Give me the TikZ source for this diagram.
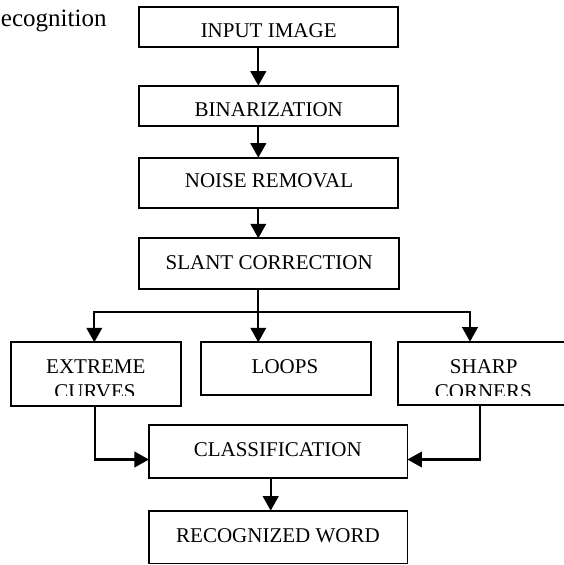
\documentclass[tikz,border=0pt]{standalone}
\usepackage{fontspec}
\setmainfont{Liberation Serif}
\usetikzlibrary{arrows.meta}
\begin{document}
\begin{tikzpicture}[x=1bp,y=-1bp,
  box/.style={draw,rectangle,line width=1.7bp,inner sep=0pt,outer sep=0pt},
  lbl/.style={inner sep=0pt,anchor=base,font=\fontsize{21bp}{25bp}\selectfont},
  flow/.style={line width=2.3bp,-{Triangle[width=15.5bp,length=14.5bp]}}]
\clip (0,0) rectangle (564,565);

% caption fragment
\node[inner sep=0pt,anchor=base east,font=\fontsize{25bp}{30bp}\selectfont] (cap) at (106.7,26.7) {ecognition};

% processing boxes
\node[box,minimum width=259bp,minimum height=40bp]   (in)    at (268.8,26.7)  {};
\node[box,minimum width=259bp,minimum height=40bp]   (bin)   at (268.8,105.7) {};
\node[box,minimum width=259bp,minimum height=50.6bp] (noise) at (268.8,183.0) {};
\node[box,minimum width=259.7bp,minimum height=51bp] (slant) at (269.15,263.8) {};
\node[box,minimum width=170bp,minimum height=63.7bp] (ext)   at (96,374.15) {};
\node[box,minimum width=170bp,minimum height=52.7bp] (loops) at (286,368.65) {};
\node[box,minimum width=170bp,minimum height=63.3bp] (sharp) at (483.3,373.35) {};
\node[box,minimum width=258.5bp,minimum height=53.3bp] (class) at (278.2,451.65) {};
\node[box,minimum width=258.5bp,minimum height=52.8bp] (rec)   at (278.2,537.1) {};

% box texts
\node[lbl] (tin)    at (268.7,37.3)  {INPUT IMAGE};
\node[lbl] (tbin)   at (268.8,116.5) {BINARIZATION};
\node[lbl] (tnoise) at (269.0,187.7) {NOISE REMOVAL};
\node[lbl] (tslant) at (269.2,269.3) {SLANT CORRECTION};
\node[lbl] (tloops) at (285.0,373.3) {LOOPS};
\node[lbl] (tclass) at (277.8,456.0) {CLASSIFICATION};
\node[lbl] (trec)   at (278.0,542.7) {RECOGNIZED WORD};
\begin{scope}
  % second lines of the two-line boxes are cut off above the border
  \clip (0,0) rectangle (564,395.7);
  \node[lbl] (text1)  at (95.8,373.3)  {EXTREME};
  \node[lbl] (text2)  at (95.0,398.0)  {CURVES};
  \node[lbl] (tsh1)   at (483.8,373.8) {SHARP};
  \node[lbl] (tsh2)   at (483.3,398.3) {CORNERS};
\end{scope}

% connector guides
\coordinate (spine) at (258.3,0);
\coordinate (lft) at (94.3,312.3);
\coordinate (rgt) at (470,312.3);
\coordinate (jl) at (95,459.5);
\coordinate (jr) at (480,459.5);
\coordinate (mid) at (270.7,0);

% connectors
\draw[flow] (in.south -| spine) -- (bin.north -| spine);
\draw[flow] (bin.south -| spine) -- (noise.north -| spine);
\draw[flow] (noise.south -| spine) -- (slant.north -| spine);
\draw[flow] (slant.south -| spine) -- (loops.north -| spine);
\draw[flow] (spine |- lft) -| (ext.north -| lft);
\draw[flow] (spine |- rgt) -| (sharp.north -| rgt);
\draw[flow] (ext.south -| jl) |- (class.west |- jl);
\draw[flow] (sharp.south -| jr) |- (class.east |- jr);
\draw[flow] (class.south -| mid) -- (rec.north -| mid);
\end{tikzpicture}
\end{document}
